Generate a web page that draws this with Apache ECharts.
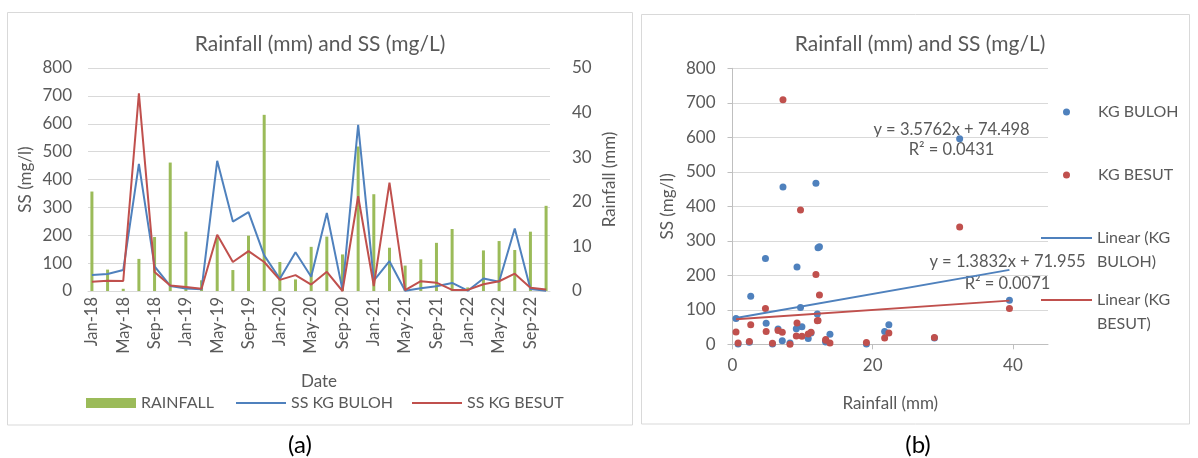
<!DOCTYPE html>
<html><head><meta charset="utf-8">
<script src="https://cdn.jsdelivr.net/npm/echarts@6/dist/echarts.min.js"></script>
<style>html,body{margin:0;padding:0;background:#fff;}#c{width:1198px;height:458px;}</style>
</head><body><div id="c"></div>
<script>
// ---------- data ----------
const monthNames = ['Jan','Feb','Mar','Apr','May','Jun','Jul','Aug','Sep','Oct','Nov','Dec'];
const years = ['18','19','20','21','22'];
const sampleDates = ['Jan-18','Mar-18','May-18','Jul-18','Sep-18','Nov-18',
  'Jan-19','Mar-19','May-19','Jul-19','Sep-19','Nov-19',
  'Jan-20','Mar-20','May-20','Jul-20','Sep-20','Nov-20',
  'Jan-21','Mar-21','May-21','Jul-21','Sep-21','Nov-21',
  'Jan-22','Mar-22','May-22','Jul-22','Sep-22','Nov-22'];
const rainfall = [22.3,4.8,0.5,7.2,12.1,28.8, 13.3,2.4,11.9,4.7,12.4,39.5, 6.5,2.6,9.9,12.2,8.2,32.4,
  21.7,9.7,5.7,7.1,10.8,13.9, 0.8,9.1,11.2,9.2,13.3,19.1];
const ssBuloh = [57,61,75,456,88,18, 9,6,467,249,283,128, 44,139,51,280,4,596,
  37,107,1,10,17,29, 1,45,33,224,7,1];
const ssBesut = [33,37,36,709,68,20, 14,8,202,104,143,104, 40,57,23,69,0,340,
  18,389,3,35,30,4, 4,24,35,62,12,5];
const trendBuloh = {slope: 3.5762, intercept: 74.498, r2: '0.0431'};
const trendBesut = {slope: 1.3832, intercept: 71.955, r2: '0.0071'};
const titleText = 'Rainfall (mm) and SS (mg/L)';

// monthly category axis Jan-18 .. Nov-22
const months = [];
years.forEach(y => monthNames.forEach(m => months.push(m + '-' + y)));
months.length = months.indexOf(sampleDates[sampleDates.length - 1]) + 1;
function onMonths(vals) {
  return months.map(m => { const i = sampleDates.indexOf(m); return i < 0 ? null : vals[i]; });
}
const pts = vals => rainfall.map((r, i) => [r, vals[i]]);
const rMin = Math.min(...rainfall), rMax = Math.max(...rainfall);
const trendLine = t => [[rMin, t.slope * rMin + t.intercept], [rMax, t.slope * rMax + t.intercept]];

// ---------- style ----------
const FONT = 'Lato';
const TXT = '#595959';
const GRID = '#D9D9D9';
const AX = '#BFBFBF';
const BLUE = '#4F81BD', RED = '#C0504D', GREEN = '#9BBB59';
const ts = (size) => ({fontFamily: FONT, fontSize: size, color: TXT});
const lt = (extra) => Object.assign(ts(16), {lineHeight: 20}, extra || {});

const chart = echarts.init(document.getElementById('c'), null, {renderer: 'canvas'});
chart.setOption({
  animation: false,
  backgroundColor: '#fff',
  title: [
    {text: titleText, left: 320, top: 34, textAlign: 'center', padding: 0,
     textStyle: Object.assign(ts(21), {fontWeight: 'normal'})},
    {text: titleText, left: 920, top: 34, textAlign: 'center', padding: 0,
     textStyle: Object.assign(ts(21), {fontWeight: 'normal'})}
  ],
  grid: [
    {left: 88, top: 68, width: 462, height: 223},
    {left: 732.5, top: 68.3, width: 315.5, height: 276}
  ],
  xAxis: [
    {type: 'category', gridIndex: 0, data: months, boundaryGap: true,
     name: 'Date', nameLocation: 'middle', nameGap: 82, nameTextStyle: ts(17),
     axisLine: {lineStyle: {color: GRID, width: 1}},
     axisTick: {interval: 3, length: 5, lineStyle: {color: GRID}},
     axisLabel: Object.assign(ts(16.5), {interval: 3, rotate: 90, margin: 6})},
    {type: 'value', gridIndex: 1, min: 0, max: 45, interval: 20,
     name: 'Rainfall (mm)', nameLocation: 'middle', nameGap: 51, nameTextStyle: ts(17),
     axisLine: {show: true, lineStyle: {color: AX}},
     axisTick: {show: true, length: 5, lineStyle: {color: AX}},
     splitLine: {show: false},
     axisLabel: Object.assign(ts(17), {margin: 13, showMaxLabel: false})}
  ],
  yAxis: [
    {type: 'value', gridIndex: 0, min: 0, max: 800, interval: 100,
     name: 'SS (mg/l)', nameLocation: 'middle', nameGap: 54, nameTextStyle: ts(17),
     axisLine: {show: false}, axisTick: {show: false},
     splitLine: {lineStyle: {color: GRID, width: 1}},
     axisLabel: Object.assign(ts(17), {margin: 16})},
    {type: 'value', gridIndex: 0, position: 'right', min: 0, max: 50, interval: 10,
     name: 'Rainfall (mm)', nameLocation: 'middle', nameGap: 51, nameTextStyle: ts(17),
     axisLine: {show: false}, axisTick: {show: false}, splitLine: {show: false},
     axisLabel: Object.assign(ts(17), {margin: 22})},
    {type: 'value', gridIndex: 1, min: 0, max: 800, interval: 100,
     name: 'SS (mg/l)', nameLocation: 'middle', nameGap: 56, nameTextStyle: ts(17),
     axisLine: {show: true, lineStyle: {color: AX}},
     axisTick: {show: true, length: 5, lineStyle: {color: AX}},
     splitLine: {lineStyle: {color: GRID, width: 1}},
     axisLabel: Object.assign(ts(17), {margin: 17})}
  ],
  legend: [
    {left: 86, top: 393, padding: 0, itemWidth: 50, itemHeight: 10, icon: 'rect',
     textStyle: lt(), data: ['RAINFALL']},
    {left: 236, top: 393, padding: 0, itemWidth: 50, itemHeight: 2, icon: 'rect',
     textStyle: lt(), data: ['SS KG BULOH']},
    {left: 412, top: 393, padding: 0, itemWidth: 50, itemHeight: 2, icon: 'rect',
     textStyle: lt(), data: ['SS KG BESUT']},
    {left: 1063, top: 102, padding: 0, itemWidth: 7, itemHeight: 7, icon: 'circle',
     formatter: n => '{g|}' + n,
     textStyle: lt({rich: {g: {width: 23}}}), data: ['KG BULOH']},
    {left: 1063, top: 165, padding: 0, itemWidth: 7, itemHeight: 7, icon: 'circle',
     formatter: n => '{g|}' + n,
     textStyle: lt({rich: {g: {width: 23}}}), data: ['KG BESUT']},
    {left: 1041, top: 202, padding: 0, itemWidth: 51, itemHeight: 2, icon: 'rect',
     formatter: () => '\u00a0\nLinear (KG\nBULOH)',
     textStyle: Object.assign(ts(16), {lineHeight: 24}),
     data: ['Linear (KG BULOH)']},
    {left: 1041, top: 264, padding: 0, itemWidth: 51, itemHeight: 2, icon: 'rect',
     formatter: () => '\u00a0\nLinear (KG\nBESUT)',
     textStyle: Object.assign(ts(16), {lineHeight: 24}),
     data: ['Linear (KG BESUT)']}
  ],
  series: [
    {name: 'RAINFALL', type: 'bar', xAxisIndex: 0, yAxisIndex: 1, barWidth: 3,
     itemStyle: {color: GREEN}, data: onMonths(rainfall)},
    {name: 'SS KG BULOH', type: 'line', xAxisIndex: 0, yAxisIndex: 0, symbol: 'none',
     connectNulls: true, lineStyle: {color: BLUE, width: 2}, itemStyle: {color: BLUE},
     data: onMonths(ssBuloh)},
    {name: 'SS KG BESUT', type: 'line', xAxisIndex: 0, yAxisIndex: 0, symbol: 'none',
     connectNulls: true, lineStyle: {color: RED, width: 2}, itemStyle: {color: RED},
     data: onMonths(ssBesut)},
    {name: 'KG BULOH', type: 'scatter', xAxisIndex: 1, yAxisIndex: 2, symbolSize: 7,
     itemStyle: {color: BLUE, opacity: 1}, data: pts(ssBuloh)},
    {name: 'KG BESUT', type: 'scatter', xAxisIndex: 1, yAxisIndex: 2, symbolSize: 7,
     itemStyle: {color: RED, opacity: 1}, data: pts(ssBesut)},
    {name: 'Linear (KG BULOH)', type: 'line', xAxisIndex: 1, yAxisIndex: 2, symbol: 'none',
     lineStyle: {color: BLUE, width: 2}, itemStyle: {color: BLUE}, data: trendLine(trendBuloh)},
    {name: 'Linear (KG BESUT)', type: 'line', xAxisIndex: 1, yAxisIndex: 2, symbol: 'none',
     lineStyle: {color: RED, width: 2}, itemStyle: {color: RED}, data: trendLine(trendBesut)}
  ],
  graphic: [
    {type: 'rect', shape: {x: 7.5, y: 12.5, width: 625, height: 412.5}, silent: true,
     style: {fill: 'none', stroke: GRID, lineWidth: 1}, z: -1},
    {type: 'rect', shape: {x: 641.5, y: 14.5, width: 548, height: 409.5}, silent: true,
     style: {fill: 'none', stroke: GRID, lineWidth: 1}, z: -1},
    {type: 'text', x: 300, y: 445, silent: true,
     style: {text: '(a)', font: '24px ' + FONT, fill: '#000', align: 'center', verticalAlign: 'middle'}},
    {type: 'text', x: 918, y: 445, silent: true,
     style: {text: '(b)', font: '24px ' + FONT, fill: '#000', align: 'center', verticalAlign: 'middle'}},
    {type: 'text', x: 951.5, y: 140, silent: true,
     style: {text: 'y = ' + trendBuloh.slope + 'x + ' + trendBuloh.intercept + '\nR² = ' + trendBuloh.r2,
       font: '16.5px ' + FONT, fill: TXT, align: 'center', verticalAlign: 'middle', lineHeight: 20}},
    {type: 'text', x: 1007.5, y: 273, silent: true,
     style: {text: 'y = ' + trendBesut.slope + 'x + ' + trendBesut.intercept + '\nR² = ' + trendBesut.r2,
       font: '16.5px ' + FONT, fill: TXT, align: 'center', verticalAlign: 'middle', lineHeight: 22}}
  ]
});
</script></body></html>
